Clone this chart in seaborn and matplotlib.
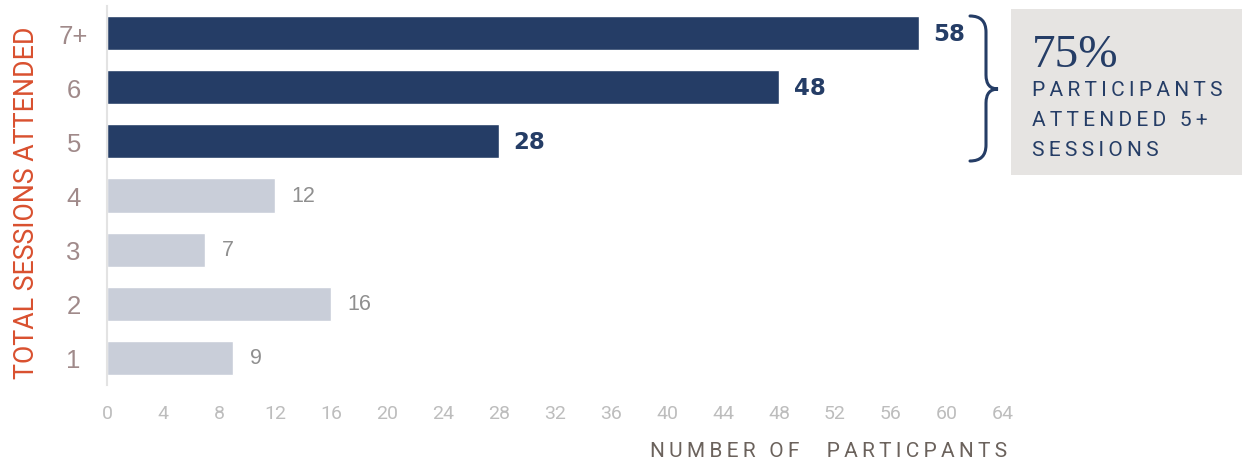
import matplotlib
matplotlib.use("Agg")
import matplotlib.pyplot as plt
from matplotlib import font_manager
from matplotlib.patches import PathPatch, Rectangle
from matplotlib.path import Path
import seaborn as sns

sessions = ["7+", "6", "5", "4", "3", "2", "1"]
participants = [58, 48, 28, 12, 7, 16, 9]
highlight = [True, True, True, False, False, False, False]
x_ticks = list(range(0, 65, 4))

DARK = "#253d66"
LIGHT = "#c9ced9"

names = {f.name for f in font_manager.fontManager.ttflist}
narrow = "Liberation Sans Narrow" if "Liberation Sans Narrow" in names else "Roboto"

sns.set_style("white")
plt.rcParams["font.family"] = [narrow, "DejaVu Sans"]


def spaced(text):
    words = text.split(" ")
    return "\u2009 \u2009".join("\u2009".join(w) if w else "" for w in words)


fig = plt.figure(figsize=(12.42, 4.64), dpi=100)
ax = fig.add_axes([107 / 1242, 78 / 464, 896 / 1242, 379 / 464])

colors = [DARK if h else LIGHT for h in highlight]
sns.barplot(x=participants, y=sessions, hue=sessions, palette=colors,
            legend=False, width=0.63, ax=ax, saturation=1)

ax.set_xlim(0, 64)
ax.set_ylim(6.5, -0.5)
ax.set_xticks(x_ticks)
ax.set_xticklabels([str(t) for t in x_ticks], fontsize=14, color="#bdbdbd")
ax.tick_params(axis="x", length=0, pad=14)
ax.tick_params(axis="y", length=0, pad=24)
ax.set_yticks(range(len(sessions)))
ax.set_yticklabels(sessions, fontsize=18.5, color="#a08a8a", ha="center",
                   fontfamily="Liberation Sans")

for s in ["top", "right", "bottom"]:
    ax.spines[s].set_visible(False)
ax.spines["left"].set_color("#e3e3e3")
ax.spines["left"].set_linewidth(1.5)

ax.set_ylabel("TOTAL SESSIONS ATTENDED", fontsize=19.3, color="#d9502f", va="center")
ax.yaxis.set_label_coords(-80 / 896, 0.483)
ax.set_xlabel("")
fig.text(1007 / 1242, 1 - 452 / 464, spaced("NUMBER OF  PARTICPANTS"),
         fontsize=15, color="#6b625c", ha="right", va="center")

for i, (v, h) in enumerate(zip(participants, highlight)):
    if h:
        ax.annotate(str(v), (v, i), xytext=(10.5, 0), textcoords="offset points",
                    va="center", ha="left", fontsize=16.5, fontweight="bold",
                    color=DARK, family=["DejaVu Sans"])
    else:
        ax.annotate(str(v), (v, i), xytext=(12, 0), textcoords="offset points",
                    va="center", ha="left", fontsize=15.5, color="#8f8f8f",
                    family=["Liberation Sans", "DejaVu Sans"])


# brace
def P(x, y):
    return (x / 1242, 1 - y / 464)


verts = [P(970, 17),
         P(986, 17), P(986, 33),
         P(986, 76),
         P(986, 90), P(998, 90),
         P(986, 90), P(986, 104),
         P(986, 146),
         P(986, 162), P(970, 162)]
codes = [Path.MOVETO,
         Path.CURVE3, Path.CURVE3,
         Path.LINETO,
         Path.CURVE3, Path.CURVE3,
         Path.CURVE3, Path.CURVE3,
         Path.LINETO,
         Path.CURVE3, Path.CURVE3]
fig.patches.append(PathPatch(Path(verts, codes), transform=fig.transFigure,
                             fill=False, edgecolor=DARK, linewidth=2.2, capstyle="round"))

# callout box
fig.patches.append(Rectangle((1011 / 1242, 1 - 176 / 464), 231 / 1242, 166 / 464,
                             transform=fig.transFigure, facecolor="#e6e4e2",
                             edgecolor="none"))
fig.text(1032 / 1242, 1 - 56 / 464, "75%", fontsize=34, color=DARK,
         family=["Liberation Serif", "DejaVu Serif"], ha="left", va="center")
for k, line in enumerate(["PARTICIPANTS", "ATTENDED 5+", "SESSIONS"]):
    fig.text(1032 / 1242, 1 - (91 + 29.5 * k) / 464, spaced(line),
             fontsize=15, color=DARK, ha="left", va="center")

fig.savefig("out.png", dpi=100)
